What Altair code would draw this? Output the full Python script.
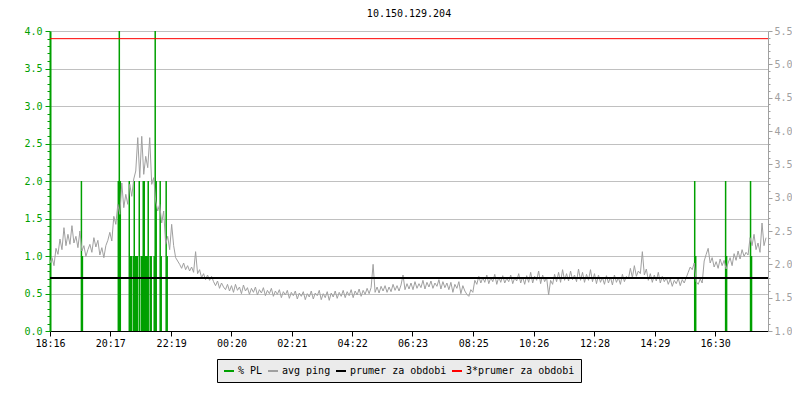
import altair as alt
import pandas as pd

title_text = "10.150.129.204"
x_tick_labels = ["18:16", "20:17", "22:19", "00:20", "02:21", "04:22",
                 "06:23", "08:25", "10:26", "12:28", "14:29", "16:30"]
start_label = "18:16"
span_minutes = 1440
ping_step_min = 4

# avg ping (ms), one value per 4 minutes
avg_ping = [
    2.02, 2.10, 1.98, 2.24, 2.15, 2.38, 2.22, 2.55, 2.28, 2.45,
    2.30, 2.58, 2.32, 2.42, 2.25, 2.50, 2.20, 2.28, 2.12, 2.22,
    2.30, 2.18, 2.40, 2.26, 2.36, 2.14, 2.25, 2.10, 2.28, 2.36,
    2.48, 2.35, 2.72, 2.60, 2.90, 2.75, 3.22, 2.85, 3.05, 2.90,
    3.20, 3.02, 3.28, 3.40, 3.90, 3.30, 3.92, 3.35, 3.62, 3.45,
    3.90, 3.20, 3.30, 2.95, 2.80, 2.90, 2.62, 2.80, 2.30, 2.42,
    2.22, 2.60, 2.28, 2.10, 2.05, 2.00, 1.94, 2.02, 1.92, 1.98,
    1.90, 1.96, 1.88, 2.19, 1.86, 1.92, 1.80, 1.86, 1.77, 1.84,
    1.76, 1.82, 1.74, 1.68, 1.75, 1.64, 1.72, 1.66, 1.62, 1.70,
    1.60, 1.68, 1.58, 1.70, 1.61, 1.66, 1.56, 1.69, 1.60, 1.65,
    1.55, 1.64, 1.58, 1.66, 1.54, 1.62, 1.57, 1.65, 1.53, 1.61,
    1.56, 1.64, 1.52, 1.60, 1.55, 1.62, 1.50, 1.59, 1.54, 1.61,
    1.49, 1.58, 1.53, 1.60, 1.48, 1.57, 1.52, 1.59, 1.47, 1.56,
    1.51, 1.60, 1.48, 1.57, 1.53, 1.61, 1.47, 1.56, 1.50, 1.59,
    1.46, 1.57, 1.51, 1.60, 1.49, 1.58, 1.52, 1.61, 1.50, 1.59,
    1.53, 1.62, 1.50, 1.60, 1.54, 1.63, 1.52, 1.61, 1.55, 1.64,
    1.56, 1.65, 2.00, 1.58, 1.66, 1.57, 1.67, 1.60, 1.68, 1.58,
    1.66, 1.59, 1.70, 1.61, 1.68, 1.60, 1.69, 1.84, 1.62, 1.71,
    1.63, 1.72, 1.62, 1.74, 1.64, 1.71, 1.65, 1.76, 1.63, 1.73,
    1.66, 1.75, 1.64, 1.72, 1.67, 1.77, 1.63, 1.74, 1.65, 1.72,
    1.62, 1.73, 1.58, 1.70, 1.64, 1.74, 1.56, 1.68, 1.60, 1.55,
    1.52, 1.62, 1.58, 1.76, 1.70, 1.82, 1.72, 1.80, 1.73, 1.84,
    1.71, 1.80, 1.74, 1.85, 1.70, 1.81, 1.73, 1.83, 1.72, 1.79,
    1.74, 1.84, 1.71, 1.80, 1.75, 1.86, 1.72, 1.81, 1.70, 1.83,
    1.73, 1.88, 1.72, 1.82, 1.76, 1.90, 1.71, 1.84, 1.74, 1.80,
    1.54, 1.76, 1.70, 1.85, 1.74, 1.88, 1.73, 1.92, 1.76, 1.86,
    1.75, 1.90, 1.77, 1.84, 1.74, 1.93, 1.76, 1.88, 1.73, 1.85,
    1.76, 1.92, 1.74, 1.86, 1.71, 1.84, 1.73, 1.80, 1.70, 1.83,
    1.72, 1.81, 1.69, 1.84, 1.73, 1.80, 1.70, 1.85, 1.74, 1.82,
    1.78, 1.94, 1.80, 1.98, 1.82, 1.90, 1.86, 2.19, 1.84, 1.93,
    1.76, 1.86, 1.73, 1.84, 1.75, 1.88, 1.72, 1.82, 1.74, 1.80,
    1.70, 1.78, 1.67, 1.76, 1.71, 1.79, 1.68, 1.77, 1.72, 1.80,
    1.88, 1.96, 1.92, 2.02, 1.74, 1.70, 1.78, 1.72, 2.05, 2.15,
    2.24, 2.02, 2.10, 1.96, 2.04, 1.94, 2.08, 1.98, 2.06, 1.93,
    2.02, 2.10, 1.98, 2.16, 2.06, 2.20, 2.08, 2.22, 2.12, 2.18,
    2.14, 2.40, 2.28, 2.45, 2.22, 2.32, 2.18, 2.62, 2.28, 2.40,
]

# packet loss events: minutes after start, % PL
pl_minutes = [63, 65, 137, 139, 141, 159, 161, 163, 167, 169, 171, 173, 175,
              179, 183, 185, 187, 189, 191, 193, 195, 197, 201, 203, 209, 211,
              213, 221, 223, 233, 235, 1293, 1295, 1355, 1357, 1405, 1407]
pl_values = [2.0, 1.0, 2.0, 4.0, 2.0, 2.0, 1.0, 1.0, 1.0, 2.0, 1.0, 1.0, 1.0,
             2.0, 1.0, 1.0, 2.0, 2.0, 1.0, 1.0, 1.0, 2.0, 1.0, 1.0, 1.0, 4.0,
             2.0, 2.0, 1.0, 2.0, 1.0, 2.0, 1.0, 2.0, 1.0, 2.0, 1.0]

prumer = 1.795
prumer3 = 5.385

series_names = ["% PL", "avg ping", "prumer za obdobi", "3*prumer za obdobi"]
series_colors = ["#00a000", "#a0a0a0", "#000000", "#ff0000"]

pl_domain = [0.0, 4.0]
ping_domain = [1.0, 5.5]

FONT = "DejaVu Sans Mono"


def minutes_after_start(label):
    h, m = map(int, label.split(":"))
    h0, m0 = map(int, start_label.split(":"))
    return ((h * 60 + m) - (h0 * 60 + m0)) % 1440


tick_minutes = [minutes_after_start(l) for l in x_tick_labels]
label_expr = "[" + ",".join("'%s'" % l for l in x_tick_labels) + "][indexof([" + \
    ",".join(str(t) for t in tick_minutes) + "], datum.value)]"

ping_df = pd.DataFrame({"t": [i * ping_step_min for i in range(len(avg_ping))],
                        "ping": avg_ping, "series": series_names[1]})
pl_df = pd.DataFrame({"t": pl_minutes, "pl": pl_values, "series": series_names[0]})
avg_df = pd.DataFrame({"v": [prumer], "series": [series_names[2]]})
avg3_df = pd.DataFrame({"v": [prumer3], "series": [series_names[3]]})

x_scale = alt.Scale(domain=[0, span_minutes], nice=False, zero=False)
x_axis = alt.Axis(values=tick_minutes, labelExpr=label_expr, title=None,
                  grid=False, tickSize=5, tickColor="black", domainColor="black",
                  labelColor="black", labelFont=FONT, labelFontSize=10,
                  labelFlush=False, labelOverlap=False, labelPadding=2)

major_test_l = "round(datum.value*10) % 5 == 0"
left_axis = alt.Axis(
    orient="left", title=None,
    values=[round(i * 0.1, 1) for i in range(41)],
    labelExpr="(" + major_test_l + ") ? format(datum.value, '.1f') : ''",
    labelOverlap=False, labelColor="#00a000", labelFont=FONT, labelFontSize=10,
    labelPadding=3,
    tickColor="#00a000", domainColor="#00a000", domainWidth=2,
    tickSize={"condition": {"test": major_test_l, "value": 5}, "value": 3},
    grid=True, gridColor="#c0c0c0",
    gridOpacity={"condition": {"test": major_test_l, "value": 1}, "value": 0},
)
right_axis = alt.Axis(
    orient="right", title=None,
    values=[round(1 + i * 0.1, 1) for i in range(46)],
    labelExpr="(" + major_test_l + ") ? format(datum.value, '.1f') : ''",
    labelOverlap=False, labelColor="#a0a0a0", labelFont=FONT, labelFontSize=10,
    labelPadding=2,
    tickColor="#a0a0a0", domainColor="#a0a0a0",
    tickSize={"condition": {"test": major_test_l, "value": 4}, "value": 2},
    grid=False,
)

color_scale = alt.Scale(domain=series_names, range=series_colors)
legend = alt.Legend(
    title=None, orient="none", direction="horizontal",
    legendX=167, legendY=328,
    fillColor="#ebebeb", strokeColor="black", padding=6,
    symbolType="stroke", symbolStrokeWidth=2, symbolSize=100,
    labelFont=FONT, labelFontSize=10, labelColor="black",
    columnPadding=1, labelOffset=3,
)
color_enc = alt.Color("series:N", scale=color_scale, legend=legend)

pl_layer = alt.Chart(pl_df).mark_rule(strokeWidth=1.5, clip=True).encode(
    x=alt.X("t:Q", scale=x_scale, axis=x_axis),
    y=alt.Y("pl:Q", scale=alt.Scale(domain=pl_domain, nice=False), axis=left_axis),
    y2=alt.datum(0),
    color=color_enc,
)

ping_scale = alt.Scale(domain=ping_domain, nice=False, zero=False)
ping_line = alt.Chart(ping_df).mark_line(strokeWidth=1, clip=True).encode(
    x=alt.X("t:Q", scale=x_scale),
    y=alt.Y("ping:Q", scale=ping_scale, axis=right_axis),
    color=color_enc,
)
avg_rule = alt.Chart(avg_df).mark_rule(strokeWidth=2).encode(
    y=alt.Y("v:Q", scale=ping_scale, axis=right_axis),
    color=color_enc,
)
avg3_rule = alt.Chart(avg3_df).mark_rule(strokeWidth=1).encode(
    y=alt.Y("v:Q", scale=ping_scale, axis=right_axis),
    color=color_enc,
)
ping_layer = alt.layer(ping_line, avg_rule, avg3_rule)

chart = alt.layer(pl_layer, ping_layer).resolve_scale(y="independent").properties(
    width=718, height=300,
    autosize=alt.AutoSizeParams(type="none"),
    padding={"left": 42, "top": 23, "right": 24, "bottom": 52},
    title=alt.TitleParams(text=title_text, font=FONT, fontSize=10,
                          fontWeight="normal", color="black", anchor="middle",
                          offset=7),
).configure_view(stroke=None).configure(background="white")

chart.save("out.html", embed_options={"renderer": "svg", "actions": False})
